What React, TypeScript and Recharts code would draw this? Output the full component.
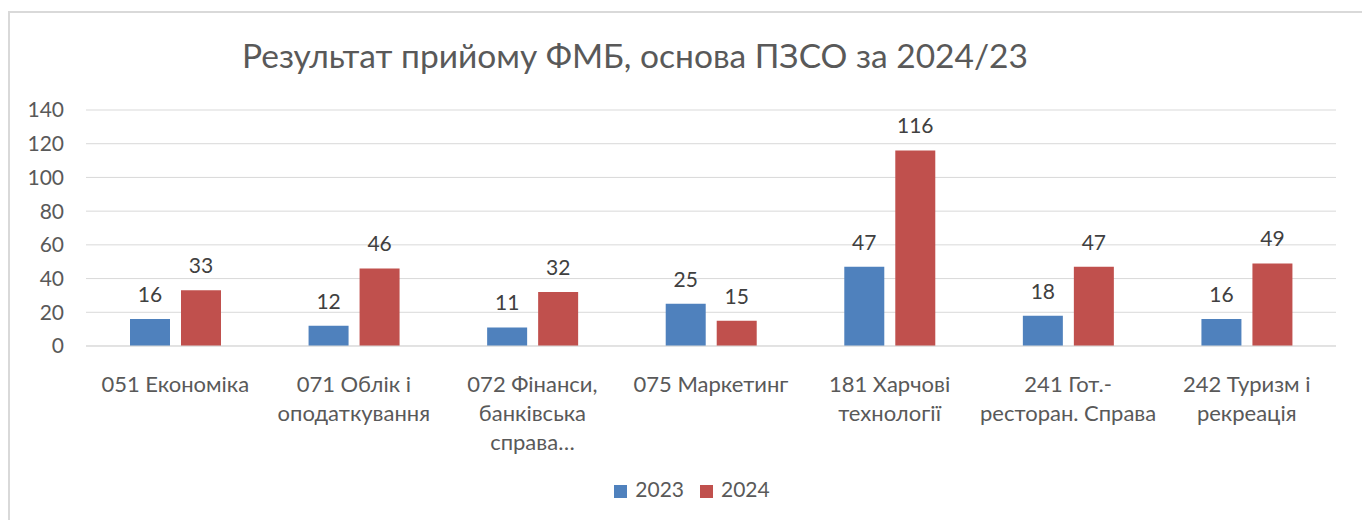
import React from 'react';
import { BarChart, Bar, XAxis, YAxis, CartesianGrid, Legend, LabelList } from 'recharts';

const categories = ['051', '071', '072', '075', '181', '241', '242'];
const tickLabels = [
  ['051 Економіка'],
  ['071 Облік і', 'оподаткування'],
  ['072 Фінанси,', 'банківська', 'справа…'],
  ['075 Маркетинг'],
  ['181 Харчові', 'технології'],
  ['241 Гот.-', 'ресторан. Справа'],
  ['242 Туризм і', 'рекреація'],
];
const values2023 = [16, 12, 11, 25, 47, 18, 16];
const values2024 = [33, 46, 32, 15, 116, 47, 49];
const yTicks = [0, 20, 40, 60, 80, 100, 120, 140];

const data = categories.map((c, i) => ({
  code: c,
  y2023: values2023[i],
  y2024: values2024[i],
}));

const FONT = 'Lato, "Liberation Sans", sans-serif';
const TEXT = '#595959';

function CategoryTick(props: any) {
  const { x, y, payload } = props;
  const lines = tickLabels[payload.index] || [];
  return (
    <g>
      {lines.map((line, i) => (
        <text
          key={i}
          x={x}
          y={y + 38 + i * 29}
          textAnchor="middle"
          fill={TEXT}
          fontSize={22}
          fontFamily={FONT}
        >
          {line}
        </text>
      ))}
    </g>
  );
}

export default function App() {
  return (
    <div
      style={{
        marginTop: 3,
        width: 1357,
        height: 520,
        border: '2px solid #d9d9d9',
        boxSizing: 'border-box',
        position: 'relative',
        fontFamily: FONT,
      }}
    >
      <BarChart
        width={1353}
        height={505}
        data={data}
        margin={{ top: 97, right: 27, bottom: 117, left: 0 }}
        barGap={11}
      >
        <text x={625} y={55} textAnchor="middle" fill={TEXT} fontSize={33.5} fontFamily={FONT}>
          Результат прийому ФМБ, основа ПЗСО за 2024/23
        </text>
        <CartesianGrid vertical={false} stroke="#d9d9d9" />
        <XAxis
          dataKey="code"
          tick={<CategoryTick />}
          tickLine={false}
          axisLine={{ stroke: '#d9d9d9' }}
          interval={0}
        />
        <YAxis
          width={76}
          domain={[0, 140]}
          ticks={yTicks}
          interval={0}
          tickLine={false}
          axisLine={false}
          tickSize={0}
          tickMargin={22}
          tick={{ fill: TEXT, fontSize: 21, fontFamily: FONT }}
        />
        <Legend
          verticalAlign="bottom"
          align="center"
          iconType="square"
          iconSize={13}
          wrapperStyle={{ bottom: 17, marginLeft: 27, fontSize: 21, fontFamily: FONT }}
          formatter={(v: string) => (
            <span style={{ color: TEXT, marginLeft: 4, marginRight: 6 }}>{v}</span>
          )}
        />
        <Bar dataKey="y2023" name="2023" fill="#4F81BD" barSize={40} isAnimationActive={false}>
          <LabelList dataKey="y2023" position="top" offset={17} fill="#404040" fontSize={21} fontFamily={FONT} />
        </Bar>
        <Bar dataKey="y2024" name="2024" fill="#C0504D" barSize={40} isAnimationActive={false}>
          <LabelList dataKey="y2024" position="top" offset={17} fill="#404040" fontSize={21} fontFamily={FONT} />
        </Bar>
      </BarChart>
    </div>
  );
}
